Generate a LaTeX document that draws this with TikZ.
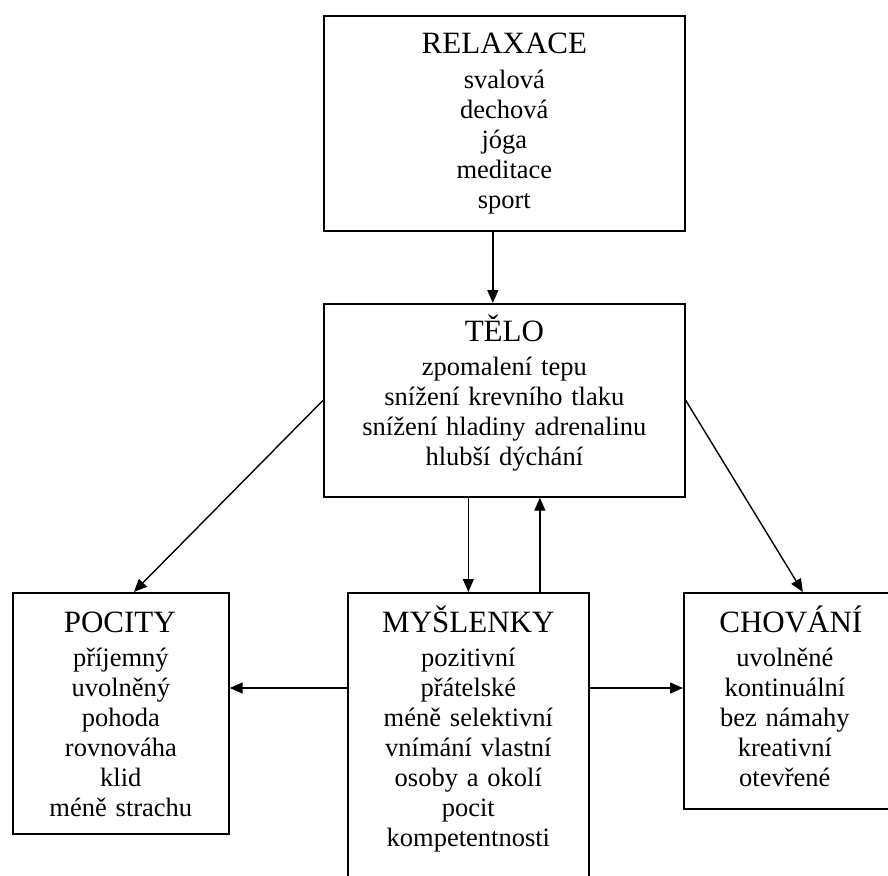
\documentclass[tikz,border=0pt]{standalone}
\usepackage{fontspec}
\setmainfont{Liberation Serif}
\usetikzlibrary{arrows.meta,calc}
\begin{document}
\begin{tikzpicture}[x=1pt,y=-1pt,
  box/.style={draw=black,line width=1.7pt,rectangle,inner sep=0pt,anchor=north west},
  ttl/.style={anchor=base,inner sep=0pt,font=\fontsize{31}{34}\selectfont},
  body/.style={anchor=base,inner sep=0pt,text width=#1,align=center,font=\fontsize{26.5}{30}\selectfont},
  conn/.style={draw=black,line width=1.4pt,-{Triangle[length=13pt,width=11pt]}}
]
\useasboundingbox (0,0) rectangle (888,875);
\clip (0,0) rectangle (888,875);

% boxes
\node[box,minimum width=361pt,minimum height=215pt] (rel) at (323,15) {};
\node[box,minimum width=361pt,minimum height=193pt] (tel) at (323,303) {};
\node[box,minimum width=216pt,minimum height=241pt] (poc) at (12,592) {};
\node[box,minimum width=241pt,minimum height=330pt] (mys) at (347,592) {};
\node[box,minimum width=212pt,minimum height=216pt] (cho) at (683,592) {};

% texts
\node[ttl] (relT) at ($(rel.north)+(0,38)$) {RELAXACE};
\node[body=330pt] (relB) at ($(rel.north)+(0,73)$) {svalová\\dechová\\jóga\\meditace\\sport};

\node[ttl] (telT) at ($(tel.north)+(0,38)$) {TĚLO};
\node[body=340pt] (telB) at ($(tel.north)+(0,72)$) {zpomalení tepu\\snížení krevního tlaku\\snížení hladiny adrenalinu\\hlubší dýchání};

\node[ttl] (pocT) at ($(poc.north)+(-1,40)$) {POCITY};
\node[body=200pt] (pocB) at ($(poc.north)+(0,74)$) {příjemný\\uvolněný\\pohoda\\rovnováha\\klid\\méně strachu};

\node[ttl] (mysT) at ($(mys.north)+(0,40)$) {MYŠLENKY};
\node[body=230pt] (mysB) at ($(mys.north)+(0,74)$) {pozitivní\\přátelské\\méně selektivní\\vnímání vlastní\\osoby a okolí\\pocit\\kompetentnosti};

\node[ttl] (choT) at ($(cho.north)+(1,40)$) {CHOVÁNÍ};
\node[body=190pt] (choB) at ($(cho.north)+(-5,74)$) {uvolněné\\kontinuální\\bez námahy\\kreativní\\otevřené};

% connectors
\coordinate (rs) at ($(rel.south)+(-11.5,0)$);
\draw[conn] (rs) -- (rs |- tel.north);
\draw[conn] (tel.west) -- ($(poc.north)+(13,0)$);
\draw[conn] (tel.east) -- ($(cho.north)+(13,0)$);
\draw[conn] (tel.south -| mys.north) -- (mys.north);
\coordinate (up) at ($(mys.north)+(71.5,0)$);
\draw[conn] (up) -- (up |- tel.south);
\coordinate (hl) at ($(mys.north west)+(0,96)$);
\draw[conn] (hl) -- (hl -| poc.east);
\coordinate (hr) at ($(mys.north east)+(0,96)$);
\draw[conn] (hr) -- (hr -| cho.west);
\end{tikzpicture}
\end{document}
